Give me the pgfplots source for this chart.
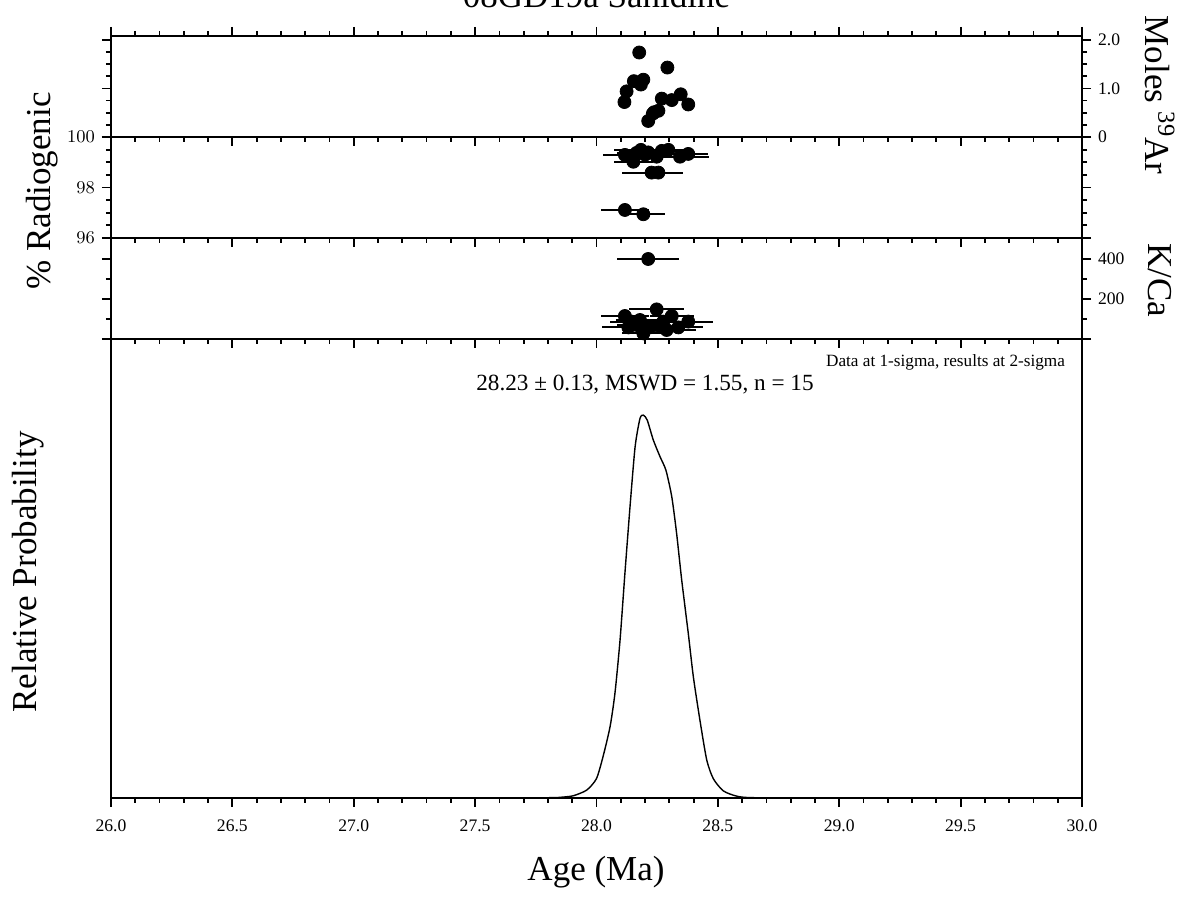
\documentclass[border=0pt]{standalone}
\usepackage{pgfplots}
\pgfplotsset{compat=1.18}
\usepackage{fontspec}
\setmainfont{Liberation Serif}
\newcommand{\tickfont}{\fontsize{8.8}{10}\selectfont}
\newcommand{\labfont}{\fontsize{17.5}{20}\selectfont}
\pgfplotsset{
  panel/.style={scale only axis, width=485.5pt, xmin=26, xmax=30, anchor=south west,
    axis line style={line width=1pt}, major tick length=4.5pt, minor tick length=2.5pt,
    every tick/.append style={black, line width=0.9pt}, ticklabel style={font=\tickfont}},
  xtopin/.style={panel, xtick={26,26.5,...,30}, minor x tick num=4, xtick pos=right,
    xticklabels={}, ytick=\empty, tick align=inside},
  pts/.style={only marks, mark=*, mark size=3.25pt, black,
    error bars/.cd, x dir=both, x explicit, error mark=none,
    error bar style={line width=1pt, black}},
}
\begin{document}
\begin{tikzpicture}
% ---------- Moles 39Ar panel ----------
\begin{axis}[panel, at={(55.5pt,385pt)}, height=50.5pt, ymin=0, ymax=2.08,
  xtick={26,26.5,...,30}, minor x tick num=4, xtick pos=right, xticklabels={},
  ytick={0,1,2}, yticklabels={0,1.0,2.0}, minor y tick num=3,
  ytick pos=both, yticklabel pos=right, tick align=outside]
\addplot[only marks, mark=*, mark size=3.25pt, black] coordinates {
(28.176,1.74) (28.292,1.43) (28.154,1.15) (28.193,1.18) (28.183,1.08)
(28.124,0.94) (28.115,0.72) (28.269,0.79) (28.310,0.76) (28.347,0.88)
(28.378,0.67) (28.255,0.54) (28.232,0.48) (28.213,0.33) (28.237,0.51)};
\end{axis}
% ---------- % Radiogenic panel ----------
\begin{axis}[panel, at={(55.5pt,334.5pt)}, height=50.5pt, ymin=96, ymax=100,
  xtick=\empty, ytick={96,98,100}, minor y tick num=3,
  ytick pos=both, yticklabel pos=left, tick align=outside]
\addplot[pts] coordinates {
(28.117,99.29) +- (0.09,0)
(28.152,99.02) +- (0.08,0)
(28.183,99.49) +- (0.11,0)
(28.213,99.39) +- (0.10,0)
(28.248,99.22) +- (0.10,0)
(28.269,99.45) +- (0.09,0)
(28.296,99.49) +- (0.10,0)
(28.344,99.22) +- (0.12,0)
(28.378,99.33) +- (0.08,0)
(28.227,98.59) +- (0.12,0)
(28.255,98.59) +- (0.10,0)
(28.117,97.11) +- (0.10,0)
(28.193,96.94) +- (0.09,0)
(28.200,99.30) +- (0.09,0)
(28.165,99.37) +- (0.08,0)};
\end{axis}
\begin{axis}[xtopin, at={(55.5pt,334.5pt)}, height=50.5pt, ymin=0, ymax=1]
\end{axis}
% ---------- K/Ca panel ----------
\begin{axis}[panel, at={(55.5pt,284pt)}, height=50.5pt, ymin=0, ymax=505,
  xtick=\empty, ytick={0,200,400}, yticklabels={,200,400}, minor y tick num=1,
  ytick pos=both, yticklabel pos=right, tick align=outside]
\addplot[pts] coordinates {
(28.213,400) +- (0.128,0)
(28.248,148) +- (0.113,0)
(28.117,115) +- (0.10,0)
(28.310,115) +- (0.09,0)
(28.378,87) +- (0.10,0)
(28.131,58) +- (0.11,0)
(28.193,28) +- (0.09,0)
(28.165,70) +- (0.08,0)
(28.220,58) +- (0.10,0)
(28.262,62) +- (0.10,0)
(28.289,45) +- (0.12,0)
(28.337,58) +- (0.10,0)
(28.275,87) +- (0.09,0)
(28.179,95) +- (0.10,0)
(28.145,87) +- (0.09,0)};
\end{axis}
\begin{axis}[xtopin, at={(55.5pt,284pt)}, height=50.5pt, ymin=0, ymax=1]
\end{axis}
% ---------- Probability panel ----------
\begin{axis}[panel, at={(55.5pt,54.65pt)}, height=229.35pt, ymin=0, ymax=1.199,
  ytick=\empty, xtick={26,26.5,...,30},
  xticklabels={26.0,26.5,27.0,27.5,28.0,28.5,29.0,29.5,30.0},
  minor x tick num=4, xtick pos=left, tick align=outside,
  xticklabel style={yshift=-3pt}]
\addplot[black, line width=0.7pt, smooth, tension=0.4] coordinates {
(26.0,0) (27.0,0) (27.8,0) (27.85,0.001) (27.904,0.005) (27.960,0.02) (28.0,0.05)
(28.028,0.11) (28.056,0.186) (28.076,0.273) (28.097,0.412) (28.117,0.586)
(28.138,0.760) (28.159,0.917) (28.179,0.991) (28.193,1.000) (28.209,0.987)
(28.234,0.935) (28.262,0.891) (28.286,0.856) (28.310,0.787) (28.330,0.691)
(28.351,0.569) (28.378,0.430) (28.399,0.316) (28.426,0.203) (28.454,0.099)
(28.481,0.050) (28.522,0.018) (28.578,0.004) (28.65,0) (29.0,0) (30.0,0)};
\end{axis}
\begin{axis}[xtopin, at={(55.5pt,54.65pt)}, height=229.35pt, ymin=0, ymax=1]
\end{axis}
% ---------- Texts ----------
\node[anchor=base, font=\labfont] at (298.25pt,449.75pt) {08GD19a Sanidine};
\node[anchor=base, font=\labfont] at (298pt,13.5pt) {Age (Ma)};
\node[rotate=90, font=\labfont] at (21pt,358pt) {\% Radiogenic};
\node[rotate=90, font=\labfont] at (14pt,167.5pt) {Relative Probability};
\node[rotate=-90, font=\labfont] at (580pt,406pt) {Moles \textsuperscript{39}Ar};
\node[rotate=-90, font=\labfont] at (580pt,313.5pt) {K/Ca};
\node[font=\fontsize{11.6}{13}\selectfont] at (322.5pt,261pt) {28.23 ± 0.13, MSWD = 1.55, n = 15};
\node[anchor=east, font=\fontsize{8.6}{10}\selectfont] at (536pt,272.5pt) {Data at 1-sigma, results at 2-sigma};
\pgfresetboundingbox
\useasboundingbox (0pt,0pt) rectangle (590pt,453.5pt);
\end{tikzpicture}
\end{document}
